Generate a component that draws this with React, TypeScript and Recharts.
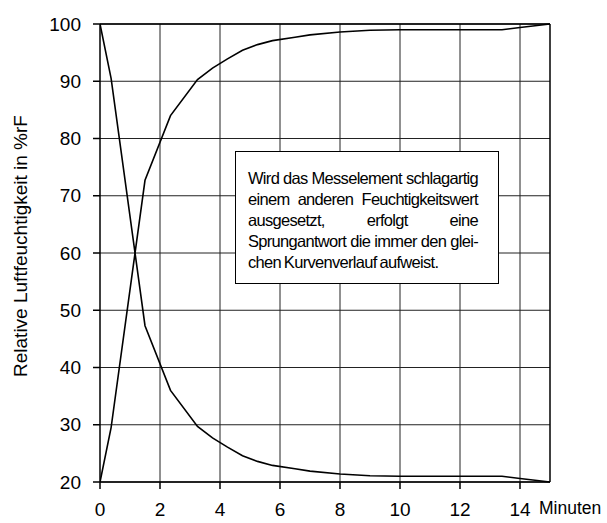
import { LineChart, Line, XAxis, YAxis, CartesianGrid, ReferenceLine } from 'recharts';

// Minuten
const minutes = [0, 0.37, 1.5, 2.35, 3.25, 3.75, 4.25, 4.75, 5.25, 5.75, 6.5, 7, 8, 9, 10, 13.4, 14, 15];
// %rF, Sprung nach oben
const rising = [20, 29.5, 72.7, 84, 90.3, 92.3, 93.9, 95.4, 96.4, 97.1, 97.7, 98.1, 98.6, 98.9, 99.0, 99.0, 99.4, 100];
// %rF, Sprung nach unten
const falling = [100, 90.5, 47.3, 36, 29.7, 27.7, 26.1, 24.6, 23.6, 22.9, 22.3, 21.9, 21.4, 21.1, 21.0, 21.0, 20.6, 20];

const xTicks = [0, 2, 4, 6, 8, 10, 12, 14];
const yTicks = [20, 30, 40, 50, 60, 70, 80, 90, 100];

const boxLines = [
  'Wird das Messelement schlagartig',
  'einem anderen Feuchtigkeitswert',
  'ausgesetzt, erfolgt eine',
  'Sprungantwort die immer den glei-',
  'chen Kurvenverlauf aufweist.',
];

const data = minutes.map((t, i) => ({ t, rising: rising[i], falling: falling[i] }));

const font = '"Liberation Sans", Arial, sans-serif';

const App = () => {
  return (
    <div style={{ position: 'absolute', left: 0, top: 0, width: 607, height: 523, background: '#fff', fontFamily: font }}>
      <LineChart width={607} height={523} data={data} margin={{ top: 24, right: 57, left: 40, bottom: 0 }}>
        <CartesianGrid stroke="#222" strokeWidth={1} verticalPoints={[160, 220, 280, 340, 400, 460, 520]} />
        <XAxis
          dataKey="t"
          type="number"
          domain={[0, 15]}
          ticks={xTicks}
          height={41}
          tickSize={7}
          tickMargin={14}
          stroke="#000"
          strokeWidth={1.5}
          tick={{ fill: '#000', fontSize: 19, fontFamily: font }}
          allowDataOverflow
        />
        <YAxis
          type="number"
          domain={[20, 100]}
          ticks={yTicks}
          width={60}
          tickSize={7}
          tickMargin={12}
          stroke="#000"
          strokeWidth={1.5}
          tick={{ fill: '#000', fontSize: 19, fontFamily: font }}
          label={{
            content: () => (
              <text
                x={20}
                y={246}
                transform="rotate(-90 20 246)"
                textAnchor="middle"
                dominantBaseline="central"
                fontSize={19}
                fontFamily={font}
                fill="#000"
              >
                Relative Luftfeuchtigkeit in %rF
              </text>
            ),
          }}
        />
        <ReferenceLine x={15} stroke="#000" strokeWidth={1.5} />
        <ReferenceLine y={100} stroke="#000" strokeWidth={1.5} />
        <Line type="linear" dataKey="rising" stroke="#000" strokeWidth={1.6} dot={false} isAnimationActive={false} />
        <Line type="linear" dataKey="falling" stroke="#000" strokeWidth={1.6} dot={false} isAnimationActive={false} />
      </LineChart>
      <div
        style={{
          position: 'absolute',
          left: 539,
          top: 498,
          fontSize: 17.5,
          lineHeight: '20px',
          color: '#000',
        }}
      >
        Minuten
      </div>
      <div
        style={{
          position: 'absolute',
          left: 235,
          top: 151,
          width: 264,
          height: 133,
          boxSizing: 'border-box',
          border: '1.5px solid #000',
          background: '#fff',
          padding: '16px 20px 0 12px',
          fontSize: 16.5,
          lineHeight: '21px',
          letterSpacing: -0.7,
          wordSpacing: -1,
          color: '#000',
        }}
      >
        {boxLines.map((line, i) => (
          <div
            key={i}
            style={{
              whiteSpace: 'nowrap',
              textAlign: i < boxLines.length - 1 ? 'justify' : 'left',
              textAlignLast: i < boxLines.length - 1 ? 'justify' : 'left',
            }}
          >
            {line}
          </div>
        ))}
      </div>
    </div>
  );
};

export default App;
